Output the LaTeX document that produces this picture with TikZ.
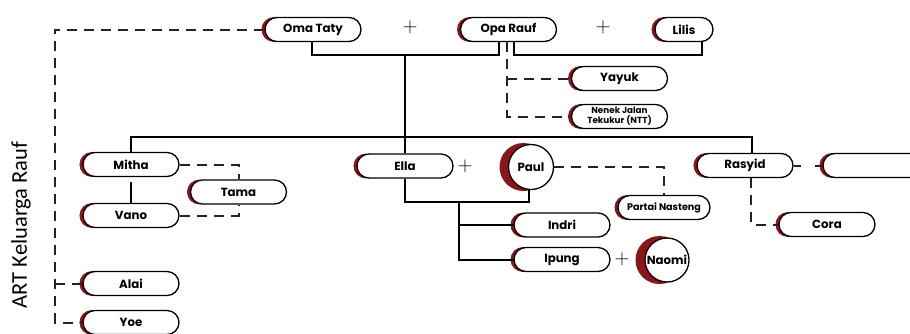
\documentclass[tikz,border=0pt]{standalone}
\usepackage{fontspec}
\usetikzlibrary{shapes.misc,calc}
\newfontfamily\nodefont{Poppins}
\newfontfamily\labfont{Carlito}
\definecolor{artred}{RGB}{139,22,26}
\definecolor{dashgray}{RGB}{35,35,35}
\pgfdeclarelayer{bg}
\pgfsetlayers{bg,main}
\newcommand\pillmark[1]{\begin{pgfonlayer}{bg}\fill[artred] ($(#1.west)+(9.5,0)$) circle (12.4pt);\end{pgfonlayer}}
\newcommand\circmark[1]{\begin{pgfonlayer}{bg}\fill[artred] ($(#1.center)+(-7.5,0)$) circle (24pt);\end{pgfonlayer}}
\tikzset{
  pill/.style={rounded rectangle, draw=black, line width=1.3pt, fill=white,
    minimum width=96pt, minimum height=24pt, inner sep=0pt,
    font=\nodefont\bfseries\fontsize{11.8}{12}\selectfont},
  person/.style={circle, draw=black, line width=1.3pt, fill=white,
    minimum size=45pt, inner sep=0pt,
    font=\nodefont\bfseries\fontsize{11.8}{12}\selectfont},
  conn/.style={draw=black, line width=2pt},
  dashconn/.style={draw=dashgray, line width=2pt, dash pattern=on 10pt off 7pt},
  plus/.style={font=\fontsize{20}{20}\selectfont, inner sep=0pt},
}
\begin{document}
\begin{tikzpicture}[x=1pt,y=-1pt]
\useasboundingbox (0,0) rectangle (910,333);
\begin{pgfonlayer}{bg}\fill[white] (0,0) rectangle (910,333);\end{pgfonlayer}
% nodes
\node[pill] (oma) at (313,29.5) {Oma Taty};
\node[pill] (opa) at (508.5,29.5) {Opa Rauf};
\node[pill, minimum width=58pt] (lilis) at (684,29.5) {Lilis};
\node[plus] (p1) at (410,27) {$+$};
\node[plus] (p2) at (603,27) {$+$};
\node[pill] (yayuk) at (619.5,78.5) {Yayuk};
\node[pill, align=center, font=\nodefont\bfseries\fontsize{8.8}{9.8}\selectfont] (nenek) at (619.5,116.5) {Nenek Jalan\\Tekukur (NTT)};
\node[pill] (mitha) at (131,164.5) {Mitha};
\node[pill] (vano) at (131,215.5) {Vano};
\node[pill] (tama) at (238.5,192) {Tama};
\node[pill] (alai) at (131,283.5) {Alai};
\node[pill] (yoe) at (131,322.5) {Yoe};
\node[pill] (ella) at (405,166) {Ella};
\node[plus] (p3) at (465,166) {$+$};
\node[person] (paul) at (531,167) {Paul};
\node[pill, minimum width=92pt, font=\nodefont\bfseries\fontsize{9.6}{10}\selectfont] (partai) at (664,207.5) {Partai Nasteng};
\node[pill] (indri) at (562,225) {Indri};
\node[pill] (ipung) at (562,259.5) {Ipung};
\node[plus] (p4) at (622,259) {$+$};
\node[person, minimum size=44pt] (naomi) at (667,260) {Naomi};
\node[pill] (rasyid) at (745,165.5) {Rasyid};
\node[pill, minimum width=130pt] (blank) at (888,165.5) {};
\node[pill] (cora) at (827,224.5) {Cora};
\node[font=\labfont\fontsize{22.5}{22.5}\selectfont, rotate=90, inner sep=0pt] (lab) at (21,225) {ART Keluarga Rauf};
% red marks
\foreach \n in {oma,opa,lilis,yayuk,nenek,mitha,vano,tama,alai,yoe,ella,partai,indri,ipung,rasyid,blank,cora}{\pillmark{\n}}
\circmark{paul}
\circmark{naomi}
% helper coordinates
\coordinate (famtop) at (405,55);
\coordinate (bar) at (0,136.5);
\coordinate (leftx) at (55,0);
\coordinate (rtop) at ($(rasyid.north)+(7,0)$);
\coordinate (kids) at (459,201);
\coordinate (opadash) at ($(opa.south)+(-1.5,0)$);
% solid connectors
\draw[conn] ($(oma.south)+(-1,0)$) -- ++(0,12.5) -| ($(opa.south)+(-10,0)$);
\draw[conn] ($(opa.south)+(5.5,0)$) -- ++(0,12.5) -| ($(lilis.south)+(18,0)$);
\draw[conn] (famtop) -- (ella.north);
\draw[conn] (mitha.north) -- (mitha.north |- bar) -- (rtop |- bar) -- (rtop);
\draw[conn, shorten <=5pt] (mitha.south) -- (vano.north);
\draw[conn] (ella.south) -- ++(0,23) -| ($(paul.south)+(-2,0)$);
\draw[conn] (kids) |- (ipung.west);
\draw[conn] (kids |- indri.west) -- (indri.west);
% dashed connectors
\draw[dashconn] (oma.west) -- (oma.west -| leftx) |- (yoe.west);
\draw[dashconn] (alai.west -| leftx) -- (alai.west);
\draw[dashconn] (opadash) |- (nenek.west);
\draw[dashconn] (opadash |- yayuk.west) -- (yayuk.west);
\draw[dashconn] (mitha.east) -| (tama.north);
\draw[dashconn] (vano.east) -| (tama.south);
\draw[dashconn] (paul.east) -| (partai.north);
\draw[dashconn, dash pattern=on 7pt off 14pt] (rasyid.east) -- (blank.west);
\draw[dashconn] ($(rasyid.south)+(6,0)$) |- (cora.west);
\end{tikzpicture}
\end{document}
